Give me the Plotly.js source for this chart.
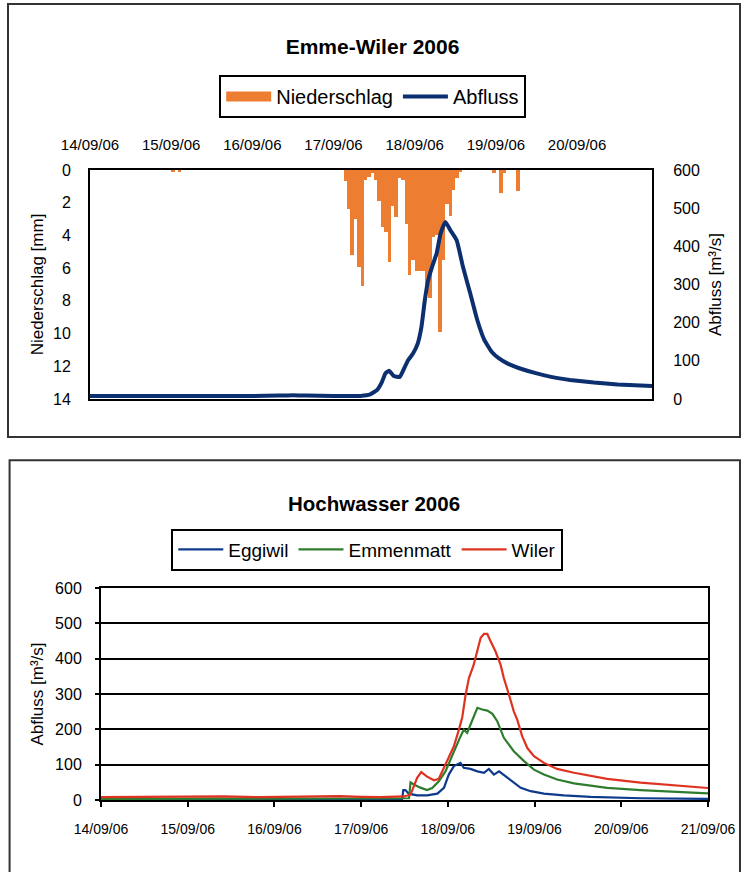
<!DOCTYPE html>
<html><head><meta charset="utf-8">
<script src="https://cdn.plot.ly/plotly-3.0.1.min.js"></script>
<style>
body{margin:0;background:#fff;}
#c1{position:absolute;left:0;top:0;width:745px;height:440px;}
#c2{position:absolute;left:0;top:440px;width:745px;height:432px;}
</style>
</head><body>
<div id="c1"></div><div id="c2"></div>
<script>
// ---------- Chart 1: Emme-Wiler 2006 ----------
const precipTime = [
 '2006-09-15 00:30','2006-09-15 02:30',
 '2006-09-17 03:30','2006-09-17 04:30','2006-09-17 05:30','2006-09-17 06:30','2006-09-17 07:30','2006-09-17 08:30',
 '2006-09-17 09:30','2006-09-17 10:30','2006-09-17 11:30','2006-09-17 12:30','2006-09-17 13:30','2006-09-17 14:30',
 '2006-09-17 15:30','2006-09-17 16:30','2006-09-17 17:30','2006-09-17 18:30','2006-09-17 19:30','2006-09-17 20:30',
 '2006-09-17 21:30','2006-09-17 22:30','2006-09-17 23:30',
 '2006-09-18 00:30','2006-09-18 01:30','2006-09-18 02:30','2006-09-18 03:30','2006-09-18 04:30','2006-09-18 05:30',
 '2006-09-18 06:30','2006-09-18 07:30','2006-09-18 08:30','2006-09-18 09:30','2006-09-18 10:30','2006-09-18 11:30',
 '2006-09-18 12:30','2006-09-18 13:30',
 '2006-09-18 23:30','2006-09-19 01:30','2006-09-19 02:30','2006-09-19 06:30'
];
const precipMm = [
 0.1,0.1,
 0.65,2.4,5.2,3.0,5.9,7.1,
 0.6,0.4,0.2,0.6,1.9,3.5,
 3.8,5.6,2.2,2.9,0.5,0.6,
 3.3,6.4,5.5,
 6.2,6.2,6.2,7.4,7.8,4.1,
 4.0,9.9,5.5,2.1,2.8,1.2,
 0.5,0.1,
 0.2,1.4,0.2,1.3
];
const abflussTime = [
 '2006-09-14 00:00','2006-09-15 00:00','2006-09-16 00:00','2006-09-16 08:00','2006-09-16 12:00','2006-09-16 16:00',
 '2006-09-17 00:00','2006-09-17 08:00','2006-09-17 10:50','2006-09-17 12:55','2006-09-17 14:20','2006-09-17 15:20',
 '2006-09-17 16:25','2006-09-17 17:50','2006-09-17 19:35','2006-09-17 20:40','2006-09-17 22:05','2006-09-17 23:30',
 '2006-09-18 00:55','2006-09-18 02:00','2006-09-18 03:00','2006-09-18 04:00','2006-09-18 05:10','2006-09-18 06:30',
 '2006-09-18 07:40','2006-09-18 09:05','2006-09-18 10:30','2006-09-18 12:25','2006-09-18 14:15','2006-09-18 16:25',
 '2006-09-18 18:30','2006-09-18 20:35','2006-09-18 22:45','2006-09-19 00:50','2006-09-19 03:40','2006-09-19 07:50',
 '2006-09-19 12:05','2006-09-19 16:20','2006-09-19 21:55','2006-09-20 05:00','2006-09-20 12:00','2006-09-20 22:10'
];
const abflussQ = [
 8,8,8,9,10,9,
 8,8,12,24,45,67,
 74,60,58,76,102,119,
 146,189,259,312,347,382,
 434,464,443,416,347,277,
 207,155,124,107,92,78,
 67,58,50,43,38,34
];

// ---------- Chart 2: Hochwasser 2006 ----------
const eggiwilTime = [
 '2006-09-14 00:00','2006-09-17 11:20','2006-09-17 11:40','2006-09-17 12:15','2006-09-17 13:10','2006-09-17 15:30',
 '2006-09-17 18:15','2006-09-17 21:05','2006-09-17 22:55','2006-09-18 00:15','2006-09-18 01:40','2006-09-18 03:30',
 '2006-09-18 04:25','2006-09-18 06:15','2006-09-18 08:10','2006-09-18 10:00','2006-09-18 11:20','2006-09-18 12:45',
 '2006-09-18 14:10','2006-09-18 16:25','2006-09-18 18:15','2006-09-18 20:10','2006-09-18 22:55','2006-09-19 02:35',
 '2006-09-19 08:05','2006-09-19 15:30','2006-09-20 05:20','2006-09-21 00:00'
];
const eggiwilQ = [1.5,2,28,28,18,13, 13,18,34.5,72,96,105, 91,88,81,77,88,72, 81,63,49,34.5,25,18, 13,9,5,3];

const emmenmattTime = [
 '2006-09-14 00:00','2006-09-17 12:00','2006-09-17 13:15','2006-09-17 13:40','2006-09-17 14:35','2006-09-17 16:25',
 '2006-09-17 18:15','2006-09-17 19:40','2006-09-17 21:30','2006-09-17 23:20','2006-09-18 00:45','2006-09-18 02:10',
 '2006-09-18 03:30','2006-09-18 04:25','2006-09-18 05:20','2006-09-18 06:15','2006-09-18 08:10','2006-09-18 09:30',
 '2006-09-18 10:55','2006-09-18 12:20','2006-09-18 13:40','2006-09-18 15:30','2006-09-18 18:15','2006-09-18 21:05',
 '2006-09-18 23:50','2006-09-19 02:35','2006-09-19 06:15','2006-09-19 10:55','2006-09-19 20:05','2006-09-20 05:20',
 '2006-09-20 14:35','2006-09-21 00:00'
];
const emmenmattQ = [3,3,5,50,44,35, 28,34,53,81,115,152, 180,199,190,213,261,256, 253,244,223,176,138,110, 86,72,58,47,34.5,28, 23,19];

const wilerTime = [
 '2006-09-14 00:00','2006-09-14 12:00','2006-09-15 00:00','2006-09-15 10:00','2006-09-15 20:00','2006-09-16 06:00',
 '2006-09-16 12:00','2006-09-16 18:00','2006-09-17 00:00','2006-09-17 05:20','2006-09-17 11:50','2006-09-17 13:40',
 '2006-09-17 15:30','2006-09-17 16:38','2006-09-17 18:15','2006-09-17 20:10','2006-09-17 21:30','2006-09-17 22:55',
 '2006-09-18 00:15','2006-09-18 01:40','2006-09-18 03:05','2006-09-18 03:30','2006-09-18 04:00','2006-09-18 04:55',
 '2006-09-18 05:50','2006-09-18 07:10','2006-09-18 08:10','2006-09-18 09:05','2006-09-18 10:00','2006-09-18 10:55',
 '2006-09-18 11:50','2006-09-18 13:10','2006-09-18 14:35','2006-09-18 15:30','2006-09-18 16:55','2006-09-18 18:15',
 '2006-09-18 19:10','2006-09-18 20:35','2006-09-18 22:00','2006-09-18 23:50','2006-09-19 02:35','2006-09-19 06:15',
 '2006-09-19 10:55','2006-09-19 20:05','2006-09-20 05:20','2006-09-20 14:35','2006-09-21 00:00'
];
const wilerQ = [8,9,8,10,8,9, 10,11,9,8,10,15, 63,79,66,56,60,91, 119,152,200,215,235,298, 345,383,421,459,470,470,
 449,421,383,345,298,251, 228,180,147,124,105,88, 77,60,49,41,34];

const yTicksMm = [0,2,4,6,8,10,12,14];
const yTicksQ = [0,100,200,300,400,500,600];

const FONT = 'Liberation Sans, Arial, sans-serif';
const ORANGE = '#ED7D31', NAVY = '#0B2F6F';

const traces1 = [
 {type:'bar', name:'Niederschlag', x:precipTime, y:precipMm, yaxis:'y', width:3600000,
  marker:{color:ORANGE, line:{width:0}}, showlegend:false, hoverinfo:'x+y'},
 {type:'scatter', mode:'lines', name:'Niederschlag', x:[null], y:[null], yaxis:'y',
  line:{color:ORANGE, width:11}, showlegend:true, hoverinfo:'skip'},
 {type:'scatter', mode:'lines', name:'Abfluss', x:abflussTime, y:abflussQ, yaxis:'y2',
  line:{color:NAVY, width:4, shape:'spline', smoothing:0.4}}
];

const axisBase = {showgrid:false, zeroline:false, showline:true, linecolor:'#000', linewidth:2};

const layout1 = {
 width:745, height:440,
 margin:{l:90, r:93, t:170, b:41},
 paper_bgcolor:'#fff', plot_bgcolor:'#fff',
 font:{family:FONT, color:'#000'},
 title:{text:'<b>Emme-Wiler 2006</b>', font:{size:21, family:FONT}, x:0.5, xref:'container', xanchor:'center',
        y:1-47/440, yref:'container', yanchor:'middle'},
 legend:{orientation:'h', x:0.503, xanchor:'center', y:1.321, yanchor:'middle', bordercolor:'#000', borderwidth:2,
         font:{size:20}, bgcolor:'#fff', itemwidth:45, tracegroupgap:0},
 bargap:0,
 xaxis:Object.assign({}, axisBase, {type:'date', side:'top', mirror:true,
   range:['2006-09-14 00:00','2006-09-20 22:10'], tick0:'2006-09-14', dtick:86400000, tickformat:'%d/%m/%y',
   tickfont:{size:15}, ticks:'', ticklabelstandoff:12}),
 yaxis:Object.assign({}, axisBase, {range:[14,0], tickvals:yTicksMm, tickfont:{size:16}, ticks:'', ticklabelstandoff:14,
   title:{text:'Niederschlag [mm]', font:{size:17}, standoff:5}}),
 yaxis2:Object.assign({}, axisBase, {overlaying:'y', side:'right', range:[0,600], tickvals:yTicksQ, tickfont:{size:16},
   ticks:'', ticklabelstandoff:16, title:{text:'Abfluss [m³/s]', font:{size:17}, standoff:10}}),
 shapes:[{type:'rect', xref:'paper', yref:'paper', x0:(8-90)/562, x1:(740-90)/562, y0:(399-437)/229, y1:(399-4)/229,
   line:{color:'#333', width:2}, fillcolor:'rgba(0,0,0,0)', layer:'below'}]
};

// ---------- chart 2 ----------
const traces2 = [
 {type:'scatter', mode:'lines', name:'Eggiwil', x:eggiwilTime, y:eggiwilQ, line:{color:'#0D3A8C', width:2.2}},
 {type:'scatter', mode:'lines', name:'Emmenmatt', x:emmenmattTime, y:emmenmattQ, line:{color:'#2E7D2E', width:2.2}},
 {type:'scatter', mode:'lines', name:'Wiler', x:wilerTime, y:wilerQ, line:{color:'#DE3320', width:2.2}}
];
const H2 = 432, T2 = 148, B2 = 360.5, L2 = 100.5, R2 = 708;
const layout2 = {
 width:745, height:H2,
 margin:{l:L2, r:745-R2, t:T2, b:H2-B2},
 paper_bgcolor:'#fff', plot_bgcolor:'#fff',
 font:{family:FONT, color:'#000'},
 title:{text:'<b>Hochwasser 2006</b>', font:{size:20.5, family:FONT}, x:374/745, xref:'container', xanchor:'center',
        y:1-64/H2, yref:'container', yanchor:'middle'},
 legend:{orientation:'h', x:(367-L2)/(R2-L2), xanchor:'center', y:(B2-109.5)/(B2-T2), yanchor:'middle',
         bordercolor:'#000', borderwidth:2, font:{size:19}, bgcolor:'#fff', itemwidth:45},
 xaxis:Object.assign({}, axisBase, {type:'date', mirror:true, range:['2006-09-14 00:00','2006-09-21 00:00'],
   tick0:'2006-09-14', dtick:86400000, tickformat:'%d/%m/%y', tickfont:{size:14}, ticks:'outside', ticklen:5,
   tickwidth:2, tickcolor:'#000', ticklabelstandoff:10}),
 yaxis:Object.assign({}, axisBase, {mirror:true, range:[0,600], tickvals:yTicksQ, tickfont:{size:16},
   showgrid:true, gridcolor:'#000', gridwidth:2, ticks:'outside', ticklen:4, tickwidth:2, tickcolor:'#000',
   ticklabelstandoff:10, title:{text:'Abfluss [m³/s]', font:{size:17}, standoff:7}}),
 shapes:[{type:'rect', xref:'paper', yref:'paper', x0:(9-L2)/(R2-L2), x1:(740-L2)/(R2-L2),
   y0:(B2-445)/(B2-T2), y1:(B2-20)/(B2-T2), line:{color:'#333', width:2}, fillcolor:'rgba(0,0,0,0)', layer:'below'}]
};

const cfg = {displayModeBar:false, responsive:false};
Plotly.newPlot('c1', traces1, layout1, cfg);
Plotly.newPlot('c2', traces2, layout2, cfg);
</script>
</body></html>
